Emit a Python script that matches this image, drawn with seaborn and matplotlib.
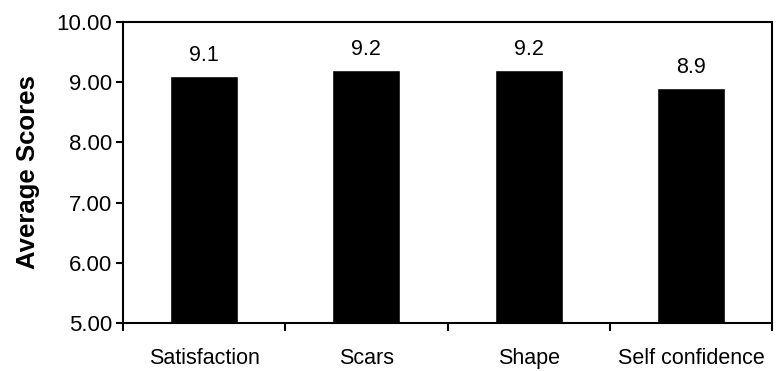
import numpy as np
import pandas as pd
import matplotlib
matplotlib.use("Agg")
import matplotlib.pyplot as plt
import seaborn as sns

categories = ["Satisfaction", "Scars", "Shape", "Self confidence"]
scores = [9.1, 9.2, 9.2, 8.9]
value_labels = ["9.1", "9.2", "9.2", "8.9"]
y_ticks = [5, 6, 7, 8, 9, 10]

sns.set_theme(style="white")
plt.rcParams["font.family"] = ["Liberation Sans", "DejaVu Sans"]
plt.rcParams["text.color"] = "black"
plt.rcParams["axes.labelcolor"] = "black"

df = pd.DataFrame({"category": categories, "score": scores})

fig = plt.figure(figsize=(7.79, 3.71), dpi=100)
ax = fig.add_axes([0.158, 0.1294, 0.833, 0.8113])

sns.barplot(data=df, x="category", y="score", color="black", width=0.42,
            saturation=1, ax=ax)

# ── value labels ─────────────────────────────────────
for i, (v, lab) in enumerate(zip(scores, value_labels)):
    ax.text(i, v + 0.17, lab, ha="center", va="bottom", fontsize=15.5,
            color="black")

# ── axes ─────────────────────────────────────────────
ax.set_ylim(5, 10)
ax.set_xlim(-0.5, len(categories) - 0.5)
ax.set_yticks(y_ticks)
ax.set_yticklabels([f"{t:.2f}" for t in y_ticks], fontsize=16)
ax.tick_params(axis="y", direction="out", length=5, width=1.5, pad=3,
               left=True, colors="black")

ax.set_xticks(range(len(categories)))
ax.set_xticklabels(categories, fontsize=15.5)
ax.tick_params(axis="x", which="major", length=0, pad=18, colors="black")
ax.set_xticks(np.arange(-0.5, len(categories)), minor=True)
ax.tick_params(axis="x", which="minor", direction="out", length=6,
               width=1.5, bottom=True, colors="black")

ax.set_xlabel("")
ax.set_ylabel("Average Scores", fontsize=18.5, fontweight="bold",
              labelpad=12, color="black")

for s in ax.spines.values():
    s.set_visible(True)
    s.set_color("black")
    s.set_linewidth(1.5)

fig.savefig("out.png", dpi=100)
